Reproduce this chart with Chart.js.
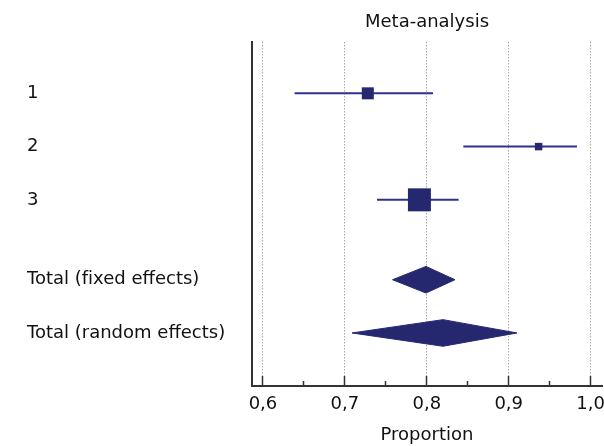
<!DOCTYPE html>
<html>
<head>
<meta charset="utf-8">
<title>Meta-analysis</title>
<script src="https://cdn.jsdelivr.net/npm/chart.js@4.4.1/dist/chart.umd.min.js"></script>
<style>
  html, body { margin: 0; padding: 0; background: #fff; }
  #wrap { width: 604px; height: 446px; }
</style>
</head>
<body>
<div id="wrap"><canvas id="forest"></canvas></div>
<script>
// Forest plot - meta-analysis of proportions

// Individual studies
const studyLabels = ['1', '2', '3'];
const studyEst = [0.728, 0.9365, 0.791];
const studyLow = [0.6386, 0.8446, 0.7392];
const studyHigh = [0.8076, 0.9834, 0.8388];
const studyWeight = [19.8, 7.7, 72.5]; // % weight -> square size

// Pooled estimates (ZWNJ keeps "fi" from turning into a ligature)
const totalLabels = ['Total (f\u200Cixed effects)', 'Total (random effects)'];
const totalEst = [0.799, 0.8198];
const totalLow = [0.7582, 0.7087];
const totalHigh = [0.8344, 0.9101];

// Axis ticks
const xTicks = [0.6, 0.7, 0.8, 0.9, 1.0];
const xMinorTicks = [0.65, 0.75, 0.85, 0.95];

// Row slots on the y axis (gap between studies and totals)
const rowPos = [0, 1, 2, 3.5, 4.5];

const NAVY = '#25286f';
const LINE = '#2e3190';
const AXIS = '#333333';
const FONT = "'DejaVu Sans', 'Liberation Sans', Arial, sans-serif";
const SQUARE_K = 2.7;   // square side (px) per sqrt(weight)
const DIAMOND_H = 0.25; // diamond half height in row units

Chart.defaults.font.family = FONT;
Chart.defaults.color = '#000';

const allLabels = studyLabels.concat(totalLabels);

// Build datasets
const datasets = [];

// study squares
datasets.push({
  data: studyEst.map((x, i) => ({ x: x, y: rowPos[i] })),
  pointStyle: 'rect',
  pointRadius: studyWeight.map(w => SQUARE_K * Math.sqrt(w) / Math.SQRT2),
  backgroundColor: NAVY,
  borderColor: NAVY,
  borderWidth: 0,
  order: 0
});

// confidence interval lines
studyEst.forEach((_, i) => {
  datasets.push({
    data: [{ x: studyLow[i], y: rowPos[i] }, { x: studyHigh[i], y: rowPos[i] }],
    showLine: true,
    borderColor: LINE,
    borderWidth: 2,
    pointRadius: 0,
    order: 1
  });
});

// pooled diamonds
totalEst.forEach((x, i) => {
  const y = rowPos[studyEst.length + i];
  datasets.push({
    data: [
      { x: totalLow[i], y: y },
      { x: x, y: y - DIAMOND_H },
      { x: totalHigh[i], y: y },
      { x: x, y: y + DIAMOND_H },
      { x: totalLow[i], y: y }
    ],
    showLine: true,
    fill: 'shape',
    backgroundColor: NAVY,
    borderColor: NAVY,
    borderWidth: 1,
    pointRadius: 0,
    order: 0
  });
});

new Chart(document.getElementById('forest'), {
  type: 'scatter',
  data: { datasets: datasets },
  options: {
    responsive: true,
    maintainAspectRatio: false,
    animation: false,
    events: [],
    layout: { autoPadding: false, padding: { left: 27, right: 2, top: 0, bottom: 0 } },
    plugins: {
      legend: { display: false },
      tooltip: { enabled: false }
    },
    scales: {
      x: {
        type: 'linear',
        position: 'bottom',
        min: 0.5866,
        max: 1.0139,
        afterBuildTicks: s => { s.ticks = xTicks.map(v => ({ value: v })); },
        afterFit: s => { s.height = 60; s.paddingLeft = 0; s.paddingRight = 0; },
        ticks: {
          font: { size: 18 },
          color: '#111',
          padding: 18,
          maxRotation: 0,
          callback: v => v.toFixed(1).replace('.', ',')
        },
        grid: {
          color: '#a8a8a8',
          lineWidth: 1,
          tickLength: -10,
          tickColor: AXIS,
          tickWidth: 1.5,
          tickBorderDash: []
        },
        border: { display: true, color: AXIS, width: 2, dash: [1.5, 1.5] },
        title: {
          display: true,
          text: 'Proportion',
          font: { size: 18 },
          color: '#111',
          padding: { top: 0, bottom: 0 }
        }
      },
      xMinor: {
        type: 'linear',
        position: 'bottom',
        weight: -1,
        min: 0.5866,
        max: 1.0139,
        afterBuildTicks: s => { s.ticks = xMinorTicks.map(v => ({ value: v })); },
        afterFit: s => { s.height = 0; s.paddingLeft = 0; s.paddingRight = 0; },
        ticks: { display: false },
        grid: {
          drawOnChartArea: false,
          tickLength: -5,
          tickColor: AXIS,
          tickWidth: 1.5,
          tickBorderDash: []
        },
        border: { display: false }
      },
      xTop: {
        type: 'linear',
        position: 'top',
        min: 0.5866,
        max: 1.0139,
        afterFit: s => { s.height = 42; s.paddingLeft = 0; s.paddingRight = 0; },
        ticks: { display: false },
        grid: { display: false },
        border: { display: false },
        title: {
          display: true,
          text: 'Meta-analysis',
          font: { size: 18 },
          color: '#111',
          padding: { top: 12, bottom: 0 }
        }
      },
      y: {
        type: 'linear',
        reverse: true,
        min: -0.964,
        max: 5.496,
        afterBuildTicks: s => { s.ticks = rowPos.map(v => ({ value: v })); },
        afterFit: s => { s.width = 225; s.paddingTop = 0; s.paddingBottom = 0; },
        ticks: {
          font: { size: 18 },
          color: '#111',
          crossAlign: 'far',
          padding: 0,
          callback: (v, i) => allLabels[i]
        },
        grid: { display: false },
        border: { display: true, color: AXIS, width: 2 }
      }
    }
  }
});
</script>
</body>
</html>
